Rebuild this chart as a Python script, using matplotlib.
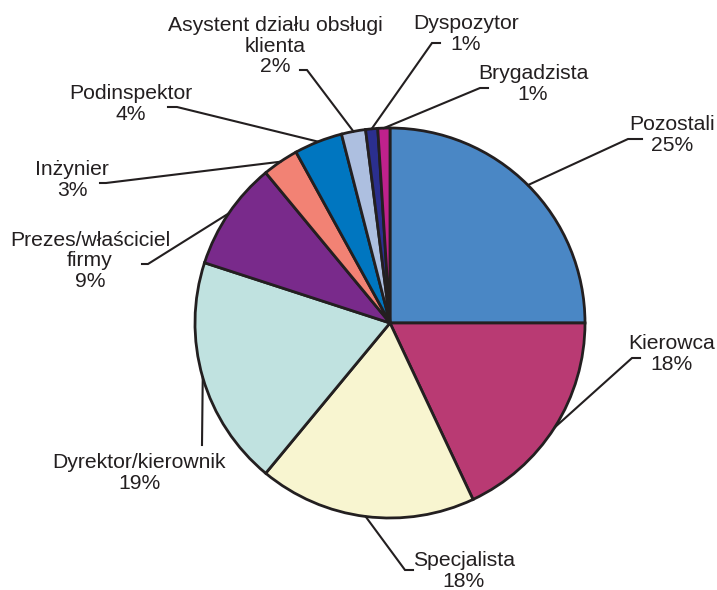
import numpy as np
import matplotlib
matplotlib.use("Agg")
import matplotlib.pyplot as plt

# ---- data ----
labels = ["Pozostali", "Kierowca", "Specjalista", "Dyrektor/kierownik",
          "Prezes/właściciel\nfirmy", "Inżynier", "Podinspektor",
          "Asystent działu obsługi\nklienta", "Dyspozytor", "Brygadzista"]
values = [25, 18, 18, 19, 9, 3, 4, 2, 1, 1]
colors = ["#4a87c5", "#b93a73", "#f8f5d0", "#c0e2e0", "#792a8b",
          "#f28274", "#0076c0", "#adbfe0", "#2b2f8f", "#c0218c"]

# ---- layout (pixel coordinates, y downward) ----
W, H = 717, 590
cx, cy, R = 390, 323, 195
# label block centre
text_pos = [(672, 135), (672, 354), (464, 571), (139, 473), (90, 261),
            (72, 180), (131, 104), (275, 46), (466, 34), (533, 84)]
# tick start, elbow (where the diagonal leader begins)
ticks = [((642, 139), (628, 139)),
         ((640, 358), (632, 358)),
         ((413, 570), (405, 570)),
         ((202, 445), (202, 445)),
         ((142, 264), (148, 264)),
         ((100, 183), (106, 183)),
         ((168, 107), (177, 107)),
         ((300, 70), (307, 70)),
         ((440, 43), (432, 43)),
         ((488, 88), (480, 88))]

ink = "#231f20"
plt.rcParams['font.family'] = ['Liberation Sans', 'DejaVu Sans']

fig = plt.figure(figsize=(W / 100, H / 100), dpi=100)
ax = fig.add_axes([0, 0, 1, 1])

def Y(py):
    return H - py

wedges, _ = ax.pie(values, colors=colors, startangle=90, counterclock=False,
                   center=(cx, Y(cy)), radius=R, frame=True,
                   wedgeprops=dict(edgecolor=ink, linewidth=2.0))
ax.set_xlim(0, W)
ax.set_ylim(0, H)
ax.axis('off')

total = sum(values)
cum = 0
for i, v in enumerate(values):
    mid = 90 - 360 * (cum + v / 2) / total
    cum += v
    ex = cx + R * np.cos(np.radians(mid))
    ey = Y(cy) + R * np.sin(np.radians(mid))
    (t0x, t0y), (t1x, t1y) = ticks[i]
    ax.plot([t0x, t1x, ex], [Y(t0y), Y(t1y), ey], color=ink, lw=1.5,
            solid_joinstyle='miter', zorder=5)
    pct = f"{v}%"
    tx, ty = text_pos[i]
    ax.text(tx, Y(ty), labels[i] + "\n" + pct, ha='center', va='center',
            multialignment='center', fontsize=15.2, color=ink, linespacing=1.12)

fig.savefig("out.png", dpi=100)
